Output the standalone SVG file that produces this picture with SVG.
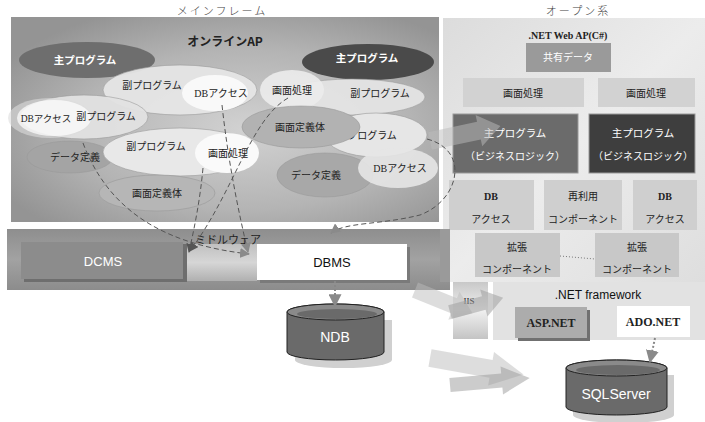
<svg xmlns="http://www.w3.org/2000/svg" width="705" height="422" viewBox="0 0 705 422">
<defs>
<radialGradient id="mfg" cx="0.55" cy="0.55" r="0.65">
<stop offset="0" stop-color="#d2d2d2"/><stop offset="0.6" stop-color="#b4b4b4"/><stop offset="1" stop-color="#949494"/>
</radialGradient>
<linearGradient id="opg" x1="0" y1="0" x2="1" y2="1">
<stop offset="0" stop-color="#dcdcdc"/><stop offset="0.5" stop-color="#ececec"/><stop offset="1" stop-color="#dedede"/>
</linearGradient>
<linearGradient id="mwg" x1="0" y1="0" x2="0" y2="1">
<stop offset="0" stop-color="#8e8e8e"/><stop offset="0.5" stop-color="#a2a2a2"/><stop offset="1" stop-color="#8c8c8c"/>
</linearGradient>
<linearGradient id="gapg" x1="0" y1="0" x2="0" y2="1">
<stop offset="0" stop-color="#c0c0c0"/><stop offset="0.5" stop-color="#d6d6d6"/><stop offset="1" stop-color="#b0b0b0"/>
</linearGradient>
<linearGradient id="iisg" x1="0" y1="0" x2="0" y2="1">
<stop offset="0" stop-color="#c8c8c8"/><stop offset="0.5" stop-color="#f0f0f0"/><stop offset="1" stop-color="#c4c4c4"/>
</linearGradient>
<marker id="ahd" viewBox="0 0 10 10" refX="9" refY="5" markerWidth="9" markerHeight="9" orient="auto" markerUnits="userSpaceOnUse">
<path d="M0,0 L10,5 L0,10 z" fill="#555"/>
</marker>
<marker id="ahl" viewBox="0 0 10 10" refX="9" refY="5" markerWidth="10" markerHeight="10" orient="auto" markerUnits="userSpaceOnUse">
<path d="M0,0 L10,5 L0,10 z" fill="#8a8a8a"/>
</marker>
<marker id="ahg" viewBox="0 0 10 10" refX="9" refY="5" markerWidth="13" markerHeight="13" orient="auto" markerUnits="userSpaceOnUse">
<path d="M0,0 L10,5 L0,10 z" fill="#8a8a8a"/>
</marker>
</defs>
<style>
.jp{font-family:"Noto Sans CJK JP",sans-serif;font-size:10px;fill:#222;text-anchor:middle}
.jpw{font-family:"Noto Sans CJK JP",sans-serif;font-size:10.5px;fill:#fff;text-anchor:middle;font-weight:bold}
.jpb{font-family:"Noto Sans CJK JP",sans-serif;font-size:10px;fill:#222;text-anchor:middle;font-weight:bold}
.ser{font-family:"Liberation Serif","Noto Sans CJK JP",serif;font-size:11px;fill:#222;text-anchor:middle}
.serb{font-family:"Liberation Serif","Noto Sans CJK JP",serif;font-size:11px;fill:#222;text-anchor:middle;font-weight:bold}
.ttl{font-family:"Noto Sans CJK JP",sans-serif;font-size:11px;fill:#444;text-anchor:middle;font-weight:300;letter-spacing:2px}
.sans{font-family:"Liberation Sans",Arial,sans-serif;text-anchor:middle}
.dash{fill:none;stroke:#555;stroke-width:1;stroke-dasharray:5,3}
.ell{stroke:#999;stroke-width:0.6}
.bigarrow{fill:#bcbcbc;opacity:0.5}
</style>

<!-- titles -->
<text class="ttl" x="222" y="15">メインフレーム</text>
<text class="ttl" x="578" y="15">オープン系</text>

<!-- mainframe panel -->
<g id="mainframe">
<rect x="11" y="17" width="428" height="205" fill="url(#mfg)"/>
<text class="jpb" x="225" y="46" style="font-size:12px">オンラインAP</text>
</g>

<!-- open panel -->
<g id="open">
<rect x="443" y="18" width="262" height="264" fill="url(#opg)"/>
<text class="serb" x="568" y="39" style="font-size:10px">.NET Web AP(C#)</text>
</g>

<!-- mainframe ellipses -->
<g id="mf-main-left"><ellipse cx="87" cy="60" rx="68" ry="18" fill="#6e6e6e"/><text class="jpw" x="85" y="64">主プログラム</text></g>
<g id="mf-sub-top"><ellipse class="ell" cx="180" cy="90" rx="77" ry="25" fill="#e6e6e6" opacity="0.95"/><text class="jp" x="152" y="89">副プログラム</text></g>
<g id="mf-db-top"><ellipse cx="215" cy="93" rx="33" ry="18" fill="#fafafa" opacity="0.95"/><text class="ser" x="221" y="97" style="font-size:10px">DBアクセス</text></g>
<g id="mf-sub-left"><ellipse class="ell" cx="84" cy="117" rx="64" ry="22" fill="#e2e2e2" opacity="0.95"/></g>
<g id="mf-db-left"><ellipse cx="50" cy="118" rx="42" ry="20" fill="#dcdcdc" opacity="0.6"/><ellipse cx="54" cy="118" rx="37" ry="18" fill="#fff" opacity="0.7"/><text class="ser" x="46" y="122" style="font-size:9.5px">DBアクセス</text></g>
<text class="jp" x="106" y="120">副プログラム</text>
<g id="mf-data-left"><ellipse class="ell" cx="70" cy="157" rx="43" ry="16" fill="#a4a4a4"/><text class="jp" x="75" y="161">データ定義</text></g>
<g id="mf-sub-center"><ellipse class="ell" cx="180" cy="152" rx="77" ry="24" fill="#e8e8e8"/><text class="jp" x="156" y="150">副プログラム</text></g>
<g id="mf-screen-center"><ellipse cx="227" cy="153" rx="32" ry="20" fill="#fafafa"/><text class="jp" x="228" y="157">画面処理</text></g>
<g id="mf-scrdef-left"><ellipse class="ell" cx="157" cy="193" rx="58" ry="18" fill="#b6b6b6"/><text class="jp" x="157" y="197">画面定義体</text></g>
<g id="mf-main-right"><ellipse cx="368" cy="62" rx="66" ry="18" fill="#4a4a4a"/><text class="jpw" x="367" y="62">主プログラム</text></g>
<g id="mf-sub-right-top"><ellipse class="ell" cx="352" cy="97" rx="73" ry="18" fill="#e4e4e4" opacity="0.95"/><text class="jp" x="380" y="97">副プログラム</text></g>
<g id="mf-screen-right"><ellipse cx="292" cy="90" rx="32" ry="20" fill="#ececec" opacity="0.9"/><text class="jp" x="292" y="94">画面処理</text></g>
<g id="mf-sub-right-mid"><ellipse class="ell" cx="376" cy="135" rx="51" ry="22" fill="#e6e6e6"/><text class="jp" x="372" y="139">プログラム</text></g>
<g id="mf-scrdef-right"><ellipse class="ell" cx="301" cy="127" rx="59" ry="21" fill="#b2b2b2"/><text class="jp" x="300" y="131">画面定義体</text></g>
<g id="mf-data-right"><ellipse class="ell" cx="325" cy="175" rx="48" ry="22" fill="#a8a8a8"/><text class="jp" x="316" y="179">データ定義</text></g>
<g id="mf-db-right"><ellipse cx="398" cy="168" rx="40" ry="20" fill="#e6e6e6" opacity="0.9"/><text class="ser" x="400" y="172" style="font-size:10px">DBアクセス</text></g>

<!-- open boxes -->
<g id="op-shared"><rect x="526" y="43" width="85" height="29" fill="#9a9a9a"/><text class="jpw" x="568" y="61" style="font-weight:normal;font-size:10px">共有データ</text></g>
<g id="op-screen1"><rect x="463" y="78" width="121" height="29" fill="#d2d2d2"/><text class="jp" x="523" y="97">画面処理</text></g>
<g id="op-screen2"><rect x="598" y="78" width="97" height="29" fill="#d2d2d2"/><text class="jp" x="646" y="97">画面処理</text></g>
<g id="op-main1"><rect x="453" y="114" width="125" height="59" fill="#6b6b6b" stroke="#9a9a9a"/><text class="jpw" x="515" y="137" style="font-weight:normal">主プログラム</text><text class="jpw" x="515" y="160" style="font-weight:normal;font-size:10px">（ビジネスロジック）</text></g>
<g id="op-main2"><rect x="589" y="114" width="106" height="59" fill="#3e3e3e" stroke="#9a9a9a"/><text class="jpw" x="643" y="137" style="font-weight:normal">主プログラム</text><text class="jpw" x="643" y="160" style="font-weight:normal;font-size:10px">（ビジネスロジック）</text></g>
<g id="op-db1"><rect x="449" y="180" width="85" height="50" fill="#cfcfcf"/><text class="serb" x="491" y="200" style="font-size:10px">DB</text><text class="jp" x="491" y="223">アクセス</text></g>
<g id="op-reuse"><rect x="544" y="180" width="78" height="50" fill="#cfcfcf"/><text class="jp" x="583" y="200">再利用</text><text class="jp" x="583" y="223">コンポーネント</text></g>
<g id="op-db2"><rect x="633" y="180" width="64" height="50" fill="#cfcfcf"/><text class="serb" x="665" y="200" style="font-size:10px">DB</text><text class="jp" x="665" y="223">アクセス</text></g>
<g id="op-ext1"><rect x="475" y="233" width="85" height="44" fill="#c8c8c8"/><text class="jp" x="517" y="251">拡張</text><text class="jp" x="517" y="273">コンポーネント</text></g>
<g id="op-ext2"><rect x="595" y="233" width="84" height="44" fill="#c8c8c8"/><text class="jp" x="637" y="251">拡張</text><text class="jp" x="637" y="273">コンポーネント</text></g>

<!-- middleware -->
<g id="middleware">
<rect x="7" y="229" width="443" height="61" fill="url(#mwg)"/>
<rect x="440" y="229" width="10" height="53" fill="#9a9a9a"/>
<rect x="187" y="244" width="70" height="37" fill="url(#gapg)"/>
<text class="jp" x="228" y="244" style="font-size:11px">ミドルウェア</text>
</g>
<g id="dcms"><rect x="24" y="244" width="163" height="38" fill="#6e6e6e"/><rect x="21" y="242" width="162" height="37" fill="#8c8c8c"/><text class="sans" x="103" y="266" style="font-size:13px;fill:#fff">DCMS</text></g>
<g id="dbms"><rect x="260" y="247" width="150" height="36" fill="#7a7a7a"/><rect x="257" y="244" width="150" height="36" fill="#fff"/><text class="sans" x="332" y="267" style="font-size:13px;fill:#111">DBMS</text></g>

<!-- .NET lower -->
<g id="iis"><rect x="453" y="282" width="35" height="57" fill="url(#iisg)"/><text class="ser" x="469" y="304" style="font-size:9px">IIS</text></g>
<g id="netfw"><rect x="493" y="282" width="212" height="58" fill="#e2e2e2"/><text class="sans" x="598" y="299" style="font-size:12px;fill:#111">.NET framework</text></g>
<g id="aspnet"><rect x="518" y="310" width="72" height="31" fill="#707070"/><rect x="515" y="307" width="72" height="31" fill="#acacac"/><text class="serb" x="551" y="327" style="font-size:12px">ASP.NET</text></g>
<g id="adonet"><rect x="617" y="306" width="73" height="31" fill="#fff"/><text class="serb" x="653" y="326" style="font-size:12px">ADO.NET</text></g>

<!-- databases -->
<g id="ndb">
<path d="M295,320 v40 a48.5,8 0 0 0 97,0 v-40 z" fill="#d0d0d0"/>
<path d="M287,312 v40 a48.5,8 0 0 0 97,0 v-40 a48.5,8 0 0 0 -97,0 z" fill="#6a6a6a" stroke="#222" stroke-width="1"/>
<ellipse cx="335.5" cy="312" rx="48.5" ry="8" fill="#8a8a8a" stroke="#222" stroke-width="1"/>
<ellipse cx="337" cy="314" rx="40" ry="5" fill="#6a6a6a"/>
<text class="sans" x="335" y="342" style="font-size:14px;fill:#fff">NDB</text>
</g>
<g id="sqlserver">
<path d="M573,375 v40 a50.5,8 0 0 0 101,0 v-40 z" fill="#d0d0d0"/>
<path d="M566,368 v39 a50.5,8 0 0 0 101,0 v-39 a50.5,8 0 0 0 -101,0 z" fill="#6a6a6a" stroke="#222" stroke-width="1"/>
<ellipse cx="616.5" cy="368" rx="50.5" ry="8" fill="#8a8a8a" stroke="#222" stroke-width="1"/>
<ellipse cx="618" cy="370" rx="42" ry="5" fill="#6a6a6a"/>
<text class="sans" x="616" y="399" style="font-size:14px;fill:#fff">SQLServer</text>
</g>

<!-- connectors -->
<g id="connectors">
<polygon class="bigarrow" points="0,-9 50,-9 50,-16 72,0 50,16 50,9 0,9" transform="translate(430,141) rotate(-12)"/>
<polygon class="bigarrow" points="0,-8 42,-8 42,-15 62,0 42,15 42,8 0,8" transform="translate(415,290) rotate(22)"/>
<polygon class="bigarrow" points="0,-7 35,-7 35,-14 55,0 35,14 35,7 0,7" transform="translate(450,312) rotate(-15)" style="fill:#9a9a9a"/>
<polygon class="bigarrow" points="0,-9 62,-9 62,-17 95,0 62,17 62,9 0,9" transform="translate(430,358) rotate(10)"/>
<polygon class="bigarrow" points="0,-7 52,-7 52,-14 80,0 52,14 52,7 0,7" transform="translate(450,385) rotate(-5)" style="fill:#9a9a9a"/>
<path class="dash" d="M83,143 C110,215 170,245 249,254" marker-end="url(#ahl)"/>
<path class="dash" d="M222,105 C228,160 238,210 248,252" marker-end="url(#ahl)"/>
<path class="dash" d="M203,168 C200,200 195,225 189,252" marker-end="url(#ahd)"/>
<path class="dash" d="M288,98 C250,120 235,190 190,251" marker-end="url(#ahd)"/>
<path class="dash" d="M427,139 C470,150 460,200 420,215 C380,225 345,222 331,233" marker-end="url(#ahl)"/>
<line x1="560" y1="256" x2="595" y2="259" stroke="#777" stroke-width="1" stroke-dasharray="1,2"/>
<line x1="335" y1="281" x2="335" y2="306" stroke="#888" stroke-width="2" stroke-dasharray="2,2" marker-end="url(#ahg)"/>
<line x1="655" y1="338" x2="650" y2="362" stroke="#888" stroke-width="2" stroke-dasharray="2,2" marker-end="url(#ahg)"/>
</g>
</svg>
